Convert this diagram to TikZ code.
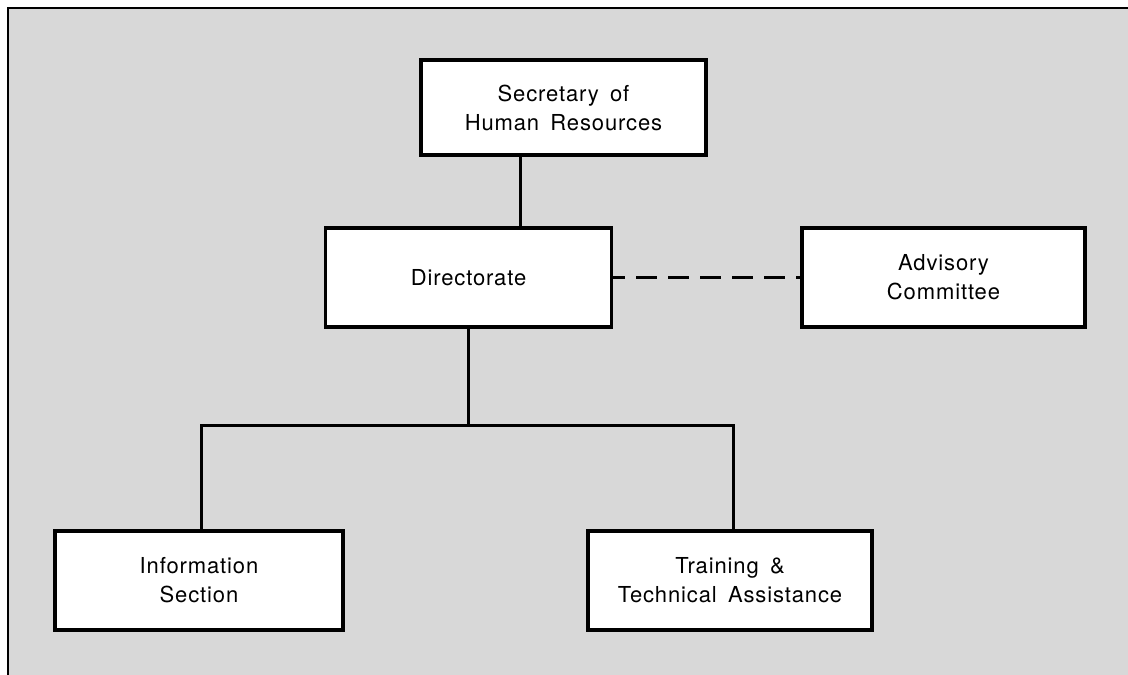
\documentclass[tikz,border=0pt]{standalone}
\usepackage{fontspec}
\setmainfont{TeX Gyre Heros}[LetterSpace=4,WordSpace=1.6]
\definecolor{paper}{RGB}{216,216,216}
\begin{document}
\begin{tikzpicture}[x=1pt,y=-1pt,
  orgbox/.style={draw=black,fill=white,line width=3.2pt,rectangle,
    minimum width=286pt,minimum height=99pt,inner sep=0pt,align=center,
    font=\fontsize{22}{29}\selectfont},
  link/.style={line width=3pt,black},
  dashlink/.style={line width=3.4pt,black,dash pattern=on 21pt off 11pt,dash phase=9pt}]
\useasboundingbox (0,0) rectangle (1128,675);
\fill[white] (0,0) rectangle (1128,675);
\fill[paper] (8,8) rectangle (1128,675);
\draw[line width=2.8pt] (8,675) -- (8,8) -- (1128,8);

\node[orgbox,minimum width=285pt,minimum height=95pt] (sec) at (563.5,107.5) {Secretary of\\Human Resources};
\node[orgbox] (dir) at (468.5,277.5) {Directorate};
\node[orgbox,minimum width=283pt] (adv) at (943.5,277.5) {Advisory\\Committee};
\node[orgbox,minimum width=288pt] (info) at (199,580.5) {Information\\Section};
\node[orgbox,minimum width=284pt] (train) at (730,580.5) {Training \&\\Technical Assistance};

\coordinate (j1) at (520,0);
\coordinate (bar) at (0,425);
\coordinate (dl) at (201,0);
\coordinate (dr) at (733,0);

\draw[link] (sec.south -| j1) -- (dir.north -| j1);
\draw[dashlink] (dir.east) -- (adv.west);
\draw[link] (dir.south) -- (dir.south |- bar);
\draw[link,line join=miter] (info.north -| dl) -- (dl |- bar) -- (dr |- bar) -- (train.north -| dr);
\end{tikzpicture}
\end{document}
